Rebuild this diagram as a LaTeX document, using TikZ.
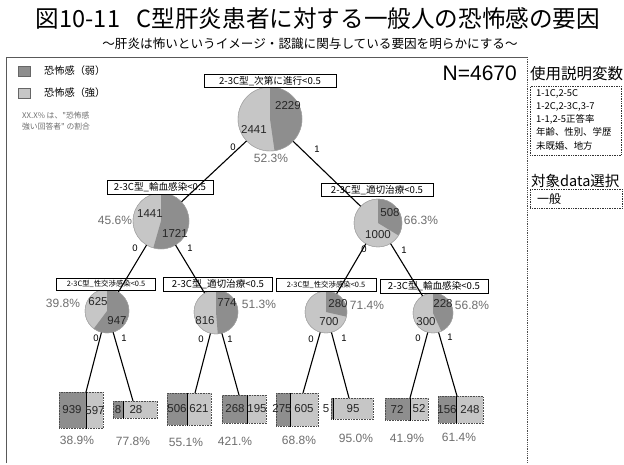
\documentclass[tikz,border=0pt]{standalone}
\usepackage{fontspec}
\setmainfont{Liberation Sans}
\newfontfamily\jp{Noto Sans CJK JP}
\usetikzlibrary{calc}
\definecolor{dk}{HTML}{8E8E8E}
\definecolor{lt}{HTML}{C6C6C6}
\definecolor{pc}{HTML}{6E6E6E}
\newcommand\mypie[6]{%
  \node[pienode, minimum size={2*#4*1pt}] (#1) at (#2,-#3) {};
  \pgfmathsetmacro\pieang{360*(#5/(#5+#6))}
  \fill[dk] (#1.center) -- ++(90:#4) arc[start angle=90, end angle={90-\pieang}, radius=#4] -- cycle;
  \draw[gray!70, line width=0.4pt] (#1.center) circle[radius=#4];
}
\newcommand\myleaf[6]{%
  \node[leafd, minimum width={(#3-#2)*1pt}, minimum height={(#6-#5)*1pt}] (#1d) at (#2,-#5) {};
  \node[leafl, minimum width={(#4-#3)*1pt}, minimum height={(#6-#5)*1pt}] (#1l) at (#3,-#5) {};
  \draw[black, line width=0.8pt] (#1d.north east) -- (#1d.south east);
}
\begin{document}
\begin{tikzpicture}[x=1pt,y=1pt,
  pienode/.style={circle, fill=lt, draw=gray!70, line width=0.4pt, inner sep=0pt},
  lbl/.style={draw=black, line width=0.7pt, fill=white, inner sep=0pt, minimum height=12pt, font=\jp\fontsize{9.6}{10}\selectfont},
  slbl/.style={lbl, font=\jp\fontsize{7.4}{8}\selectfont},
  num/.style={font=\fontsize{11.5}{11.5}\selectfont, text=black!85, inner sep=0pt},
  pct/.style={font=\fontsize{12}{12}\selectfont, text=pc, inner sep=0pt},
  br/.style={font=\fontsize{9.5}{9.5}\selectfont, inner sep=0pt},
  conn/.style={draw=black, line width=1.1pt},
  leafd/.style={fill=dk, draw=black!70, densely dotted, line width=0.6pt, inner sep=0pt, anchor=north west},
  leafl/.style={fill=lt, draw=black!70, densely dotted, line width=0.6pt, inner sep=0pt, anchor=north west},
  lgbox/.style={draw=black!60, minimum width=12pt, minimum height=10pt, inner sep=0pt, anchor=north west},
  dotbox/.style={draw=black!80, densely dotted, line width=0.7pt, inner sep=0pt, anchor=north west},
  plain/.style={inner sep=0pt}
]
\useasboundingbox (0,0) rectangle (624,-464);
\fill[white] (0,0) rectangle (624,-464);

% title
\node[plain, font=\jp\fontsize{23.6}{23.6}\selectfont] (title) at (318,-18) {図10-11\hspace{0.7em}C型肝炎患者に対する一般人の恐怖感の要因};
\node[plain, font=\jp\fontsize{12.6}{12.6}\selectfont] (subtitle) at (310,-44) {～肝炎は怖いというイメージ・認識に関与している要因を明らかにする～};

% frame
\draw[black!65, line width=1pt] (6,-463) -- (6,-57) -- (527,-57);
\draw[black!70, densely dotted, line width=0.8pt] (527,-57) -- (527,-463);

% legend
\node[lgbox, fill=dk] (lg1) at (18,-66) {};
\node[plain, anchor=west, font=\jp\fontsize{10.2}{10.2}\selectfont] (lg1t) at (44,-71) {恐怖感（弱）};
\node[lgbox, fill=lt] (lg2) at (18,-88) {};
\node[plain, anchor=west, font=\jp\fontsize{10.2}{10.2}\selectfont] (lg2t) at (44,-93) {恐怖感（強）};
\node[plain, anchor=north west, align=left, text=pc, font=\jp\fontsize{7.8}{11}\selectfont] (note) at (22,-112) {XX.X\% は、"恐怖感\\強い回答者" の割合};

% N
\node[plain, anchor=east, font=\fontsize{21}{21}\selectfont] (N) at (517,-73) {N=4670};

% right panel
\node[plain, anchor=west, font=\jp\fontsize{15.5}{15.5}\selectfont] (rp1) at (530,-74) {使用説明変数};
\node[dotbox, minimum width=91pt, minimum height=69pt] (vars) at (530,-86) {};
\node[plain, anchor=north west, align=left, font=\jp\fontsize{9.4}{13.2}\selectfont] (varst) at (536,-89) {1-1C,2-5C\\1-2C,2-3C,3-7\\1-1,2-5正答率\\年齢、性別、学歴\\未既婚、地方};
\node[plain, anchor=west, font=\jp\fontsize{14.5}{14.5}\selectfont] (rp2) at (531,-181) {対象data選択};
\node[dotbox, minimum width=92pt, minimum height=19pt] (sel) at (530,-189) {};
\node[plain, anchor=west, font=\jp\fontsize{12}{12}\selectfont] (selt) at (537,-199) {一般};

% pies
\mypie{root}{270}{119}{32}{2229}{2441}
\mypie{A}{161}{221}{28}{1721}{1441}
\mypie{B}{378}{223}{24}{508}{1000}
\mypie{AA}{107}{311}{22}{947}{625}
\mypie{AB}{216}{312}{22}{774}{816}
\mypie{BA}{326}{312}{21}{280}{700}
\mypie{BB}{433}{313}{20}{228}{300}

% leaves
\myleaf{L1}{59}{86}{103}{392}{428}
\myleaf{L2}{113}{123}{157}{401}{418}
\myleaf{L3}{167}{187}{211}{393}{425}
\myleaf{L4}{222}{247}{266}{395}{423}
\myleaf{L5}{276}{290}{318}{393}{426}
\myleaf{L6}{331}{333}{373}{398}{419}
\myleaf{L7}{385}{410}{428}{398}{420}
\myleaf{L8}{438}{456}{483}{396}{423}

% split labels
\node[lbl, minimum width=132pt, minimum height=13pt] (rootl) at (270,-81) {2-3C型\_次第に進行<0.5};
\node[lbl, minimum width=106pt, minimum height=14pt] (Al) at (160,-187) {2-3C型\_輸血感染<0.5};
\node[lbl, minimum width=112pt, minimum height=13pt] (Bl) at (377,-190) {2-3C型\_適切治療<0.5};
\node[slbl, minimum width=99pt] (AAl) at (106,-284) {2-3C型\_性交渉感染<0.5};
\node[lbl, minimum width=109pt, minimum height=14pt] (ABl) at (218,-284) {2-3C型\_適切治療<0.5};
\node[slbl, minimum width=100pt, minimum height=13pt] (BAl) at (326,-285) {2-3C型\_性交渉感染<0.5};
\node[lbl, minimum width=108pt, minimum height=14pt] (BBl) at (434,-286) {2-3C型\_輸血感染<0.5};

% connector end points
\coordinate (c1) at (86,-392);
\coordinate (c2) at (133,-401);
\coordinate (c3) at (195,-393);
\coordinate (c4) at (239,-395);
\coordinate (c5) at (303,-393);
\coordinate (c6) at (349,-398);
\coordinate (c7) at (410,-398);
\coordinate (c8) at (457,-396);

% connectors
\draw[conn] (root) -- (A);
\draw[conn] (root) -- (B);
\draw[conn] (A) -- (AA);
\draw[conn] (A) -- (AB);
\draw[conn] (B) -- (BA);
\draw[conn] (B) -- (BB);
\draw[conn] (AA) -- (c1);
\draw[conn] (AA) -- (c2);
\draw[conn] (AB) -- (c3);
\draw[conn] (AB) -- (c4);
\draw[conn] (BA) -- (c5);
\draw[conn] (BA) -- (c6);
\draw[conn] (BB) -- (c7);
\draw[conn] (BB) -- (c8);

% pie numbers
\node[num] (n1) at (288,-106) {2229};
\node[num] (n2) at (254,-129) {2441};
\node[num] (n3) at (150,-214) {1441};
\node[num] (n4) at (175,-233) {1721};
\node[num] (n5) at (390,-213) {508};
\node[num] (n6) at (378,-235) {1000};
\node[num] (n7) at (98,-302) {625};
\node[num] (n8) at (117,-321) {947};
\node[num] (n9) at (227,-303) {774};
\node[num] (n10) at (205,-321) {816};
\node[num] (n11) at (338,-304) {280};
\node[num] (n12) at (329,-322) {700};
\node[num] (n13) at (443,-304) {228};
\node[num] (n14) at (426,-322) {300};

% pie percentages
\node[pct] (p1) at (271,-158) {52.3\%};
\node[pct] (p2) at (115,-220) {45.6\%};
\node[pct] (p3) at (421,-220) {66.3\%};
\node[pct] (p4) at (63,-303) {39.8\%};
\node[pct] (p5) at (259,-304) {51.3\%};
\node[pct] (p6) at (367,-305) {71.4\%};
\node[pct] (p7) at (472,-305) {56.8\%};

% branch labels
\node[br] (b1) at (233,-147) {0};
\node[br] (b2) at (317,-149) {1};
\node[br] (b3) at (135,-248) {0};
\node[br] (b4) at (190,-248) {1};
\node[br] (b5) at (364,-249) {0};
\node[br] (b6) at (404,-250) {1};
\node[br] (b7) at (96,-338) {0};
\node[br] (b8) at (124,-338) {1};
\node[br] (b9) at (201,-339) {0};
\node[br] (b10) at (230,-339) {1};
\node[br] (b11) at (311,-339) {0};
\node[br] (b12) at (344,-338) {1};
\node[br] (b13) at (418,-338) {0};
\node[br] (b14) at (450,-337) {1};

% leaf numbers
\node[num] (v1) at (72,-410) {939};
\node[num] (v2) at (95,-411) {597};
\node[num] (v3) at (118,-410) {8};
\node[num] (v4) at (136,-410) {28};
\node[num] (v5) at (177,-409) {506};
\node[num] (v6) at (199,-409) {621};
\node[num] (v7) at (235,-409) {268};
\node[num] (v8) at (257,-409) {195};
\node[num] (v9) at (282,-409) {275};
\node[num] (v10) at (304,-409) {605};
\node[num] (v11) at (326,-409) {5};
\node[num] (v12) at (353,-409) {95};
\node[num] (v13) at (397,-409) {72};
\node[num] (v14) at (419,-409) {52};
\node[num] (v15) at (447,-410) {156};
\node[num] (v16) at (470,-410) {248};

% leaf percentages
\node[pct] (q1) at (77,-440) {38.9\%};
\node[pct] (q2) at (133,-441) {77.8\%};
\node[pct] (q3) at (186,-442) {55.1\%};
\node[pct] (q4) at (235,-441) {421.\%};
\node[pct] (q5) at (299,-440) {68.8\%};
\node[pct] (q6) at (356,-438) {95.0\%};
\node[pct] (q7) at (407,-438) {41.9\%};
\node[pct] (q8) at (459,-437) {61.4\%};
\end{tikzpicture}
\end{document}
